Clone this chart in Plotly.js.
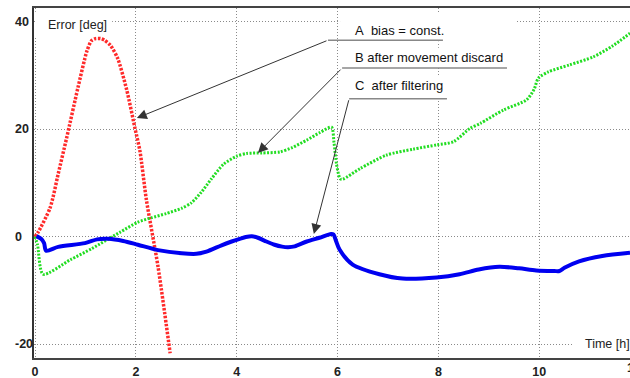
<!DOCTYPE html>
<html><head><meta charset="utf-8">
<script src="https://cdn.plot.ly/plotly-3.0.1.min.js"></script>
<style>html,body{margin:0;padding:0;background:#fff;overflow:hidden}#chart{width:630px;height:378px}</style>
</head><body><div id="chart"></div>
<script>
// Series A: bias = const.
const timeA = [0, 0.06, 0.3, 0.46, 0.63, 0.85, 1.03, 1.12, 1.2, 1.3, 1.38, 1.5, 1.64, 1.82, 1.98, 2.08, 2.21, 2.44, 2.68];
const errA  = [0, 0.8, 5.4, 11.7, 18.5, 27.7, 34.6, 36.5, 36.9, 36.9, 36.6, 35.6, 33.2, 27.3, 20.3, 16.0, 6.8, -5.6, -21.7];
// Series B: after movement discard
const timeB = [0, 0.05, 0.16, 0.7, 1.13, 1.68, 2.04, 2.3, 2.6, 2.91, 3.1, 3.3, 3.5, 3.74, 4.0, 4.2, 4.5, 4.86, 5.1, 5.39, 5.65, 5.88, 5.93, 5.98, 6.05, 6.1, 6.45, 6.97, 7.5, 7.97, 8.3, 8.63, 8.83, 9.29, 9.75, 9.9, 9.98, 10.18, 10.6, 11.07, 11.45, 11.8];
const errB  = [0, -1.5, -7.0, -4.3, -2.2, 0.8, 2.7, 3.5, 4.3, 5.3, 6.3, 8.3, 10.8, 13.5, 15.0, 15.5, 15.6, 15.8, 16.6, 18.0, 19.4, 20.4, 17.5, 13.5, 10.8, 10.7, 12.7, 15.2, 16.3, 17.1, 17.7, 20.2, 21.1, 23.6, 25.5, 27.5, 29.5, 30.7, 32.0, 33.5, 35.5, 37.9];
// Series C: after filtering
const timeC = [0.03, 0.12, 0.18, 0.22, 0.46, 0.99, 1.23, 1.45, 1.75, 2.04, 2.44, 2.91, 3.2, 3.4, 3.7, 3.9, 4.06, 4.18, 4.3, 4.42, 4.59, 4.75, 4.9, 5.02, 5.15, 5.39, 5.64, 5.87, 5.92, 5.97, 6.04, 6.3, 6.83, 7.29, 7.96, 8.42, 8.8, 9.21, 9.6, 9.94, 10.3, 10.4, 10.5, 10.79, 11.25, 11.8];
const errC  = [0.1, -0.4, -1.2, -2.6, -1.9, -1.2, -0.5, -0.4, -0.8, -1.5, -2.5, -3.1, -3.2, -2.8, -1.6, -0.9, -0.4, -0.05, 0.1, -0.2, -0.9, -1.5, -1.85, -1.95, -1.8, -0.9, -0.2, 0.5, 0.4, -0.8, -2.4, -5.2, -7.0, -7.8, -7.6, -7.0, -6.1, -5.6, -5.9, -6.3, -6.4, -6.4, -5.8, -4.6, -3.6, -3.0];

const xTickVals = [0, 2, 4, 6, 8, 10];
const yTickVals = [-20, 0, 20, 40];
const extraTickLabel = '12';
const labelA = 'A\u00a0\u00a0bias = const.';
const labelB = 'B after movement discard';
const labelC = 'C\u00a0\u00a0after filtering';
const yTitle = 'Error [deg]';
const xTitle = 'Time [h]';

const FONT = 'Liberation Sans, Arial, sans-serif';

const traces = [
  {x: timeA, y: errA, mode: 'lines', name: labelA,
   line: {color: '#ff2a2a', width: 3.5, dash: '2.5px,1.5px', shape: 'spline', smoothing: 0.7}},
  {x: timeB, y: errB, mode: 'lines', name: labelB,
   line: {color: '#22dd22', width: 3, dash: '2px,1.5px', shape: 'spline', smoothing: 0.7}},
  {x: timeC, y: errC, mode: 'lines', name: labelC,
   line: {color: '#0000f0', width: 4, shape: 'spline', smoothing: 0.8}}
];

const white = {type: 'rect', layer: 'between', xref: 'x', yref: 'y', fillcolor: '#ffffff', line: {width: 0}};
const uline = {type: 'line', layer: 'above', xref: 'x', yref: 'y', line: {color: '#888888', width: 1.5}};

const tickFont = {family: FONT, size: 12.5, weight: 'bold', color: '#222'};

const yTickAnn = yTickVals.map(v => ({
  text: String(v), xref: 'paper', yref: 'y', x: -0.0352, y: v, xanchor: 'left', yanchor: 'middle',
  showarrow: false, font: tickFont
}));

const layout = {
  width: 630, height: 378,
  margin: {l: 34, r: 0, t: 8, b: 20, pad: 0},
  paper_bgcolor: '#ffffff', plot_bgcolor: '#ffffff',
  showlegend: false,
  font: {family: FONT, color: '#222222'},
  xaxis: {
    range: [-0.02, 11.8], tickvals: xTickVals, ticks: '', ticklabelstandoff: 1,
    tickfont: tickFont,
    showgrid: true, gridcolor: '#8a8a8a', griddash: '1px,2px', gridwidth: 1,
    zeroline: false, showline: true, linecolor: '#444', linewidth: 2, mirror: true
  },
  yaxis: {
    range: [-22.6, 42.6], tickvals: yTickVals, showticklabels: false, ticks: '',
    showgrid: true, gridcolor: '#8a8a8a', griddash: '1px,2px', gridwidth: 1,
    zeroline: false, showline: true, linecolor: '#333', linewidth: 2
  },
  shapes: [
    Object.assign({}, white, {x0: 0.0, x1: 1.53, y0: 37.4, y1: 41.9}),
    Object.assign({}, white, {x0: 10.65, x1: 11.8, y0: -21.5, y1: -18.5}),
    Object.assign({}, white, {x0: 6.05, x1: 9.52, y0: 36.3, y1: 41.5}),
    Object.assign({}, white, {x0: 6.05, x1: 9.45, y0: 31.8, y1: 35.2}),
    Object.assign({}, white, {x0: 6.05, x1: 8.3, y0: 26.0, y1: 29.9}),
    Object.assign({}, uline, {x0: 5.81, x1: 8.09, y0: 36.6, y1: 36.6}),
    Object.assign({}, uline, {x0: 6.09, x1: 9.36, y0: 31.4, y1: 31.4}),
    Object.assign({}, uline, {x0: 6.23, x1: 8.17, y0: 25.7, y1: 25.7})
  ],
  annotations: yTickAnn.concat([
    {text: yTitle, xref: 'x', yref: 'y', x: 0.22, y: 39.4, xanchor: 'left', yanchor: 'middle', showarrow: false,
     font: {family: FONT, size: 12.5, color: '#222'}},
    {text: xTitle, xref: 'x', yref: 'y', x: 10.87, y: -20.0, xanchor: 'left', yanchor: 'middle', showarrow: false,
     font: {family: FONT, size: 12.5, color: '#222'}},
    {text: extraTickLabel, xref: 'paper', yref: 'paper', x: 1.0067, y: 0, xanchor: 'center', yanchor: 'top', yshift: -1, showarrow: false,
     font: tickFont},
    {text: labelA, xref: 'x', yref: 'y', x: 6.31, y: 38.5, xanchor: 'left', yanchor: 'middle', showarrow: false,
     font: {family: FONT, size: 13, color: '#111'}},
    {text: labelB, xref: 'x', yref: 'y', x: 6.31, y: 33.3, xanchor: 'left', yanchor: 'middle', showarrow: false,
     font: {family: FONT, size: 13, color: '#111'}},
    {text: labelC, xref: 'x', yref: 'y', x: 6.31, y: 28.1, xanchor: 'left', yanchor: 'middle', showarrow: false,
     font: {family: FONT, size: 13, color: '#111'}},
    {text: '', xref: 'x', yref: 'y', x: 2.02, y: 22.1, axref: 'x', ayref: 'y', ax: 5.81, ay: 36.6,
     showarrow: true, arrowhead: 2, arrowsize: 2, arrowwidth: 1, arrowcolor: '#333'},
    {text: '', xref: 'x', yref: 'y', x: 4.42, y: 15.6, axref: 'x', ayref: 'y', ax: 6.09, ay: 31.4,
     showarrow: true, arrowhead: 2, arrowsize: 2, arrowwidth: 1, arrowcolor: '#333'},
    {text: '', xref: 'x', yref: 'y', x: 5.53, y: 0.5, axref: 'x', ayref: 'y', ax: 6.23, ay: 25.7,
     showarrow: true, arrowhead: 2, arrowsize: 2, arrowwidth: 1, arrowcolor: '#333'}
  ])
};

Plotly.newPlot('chart', traces, layout, {staticPlot: true, displayModeBar: false});
</script>
</body></html>
